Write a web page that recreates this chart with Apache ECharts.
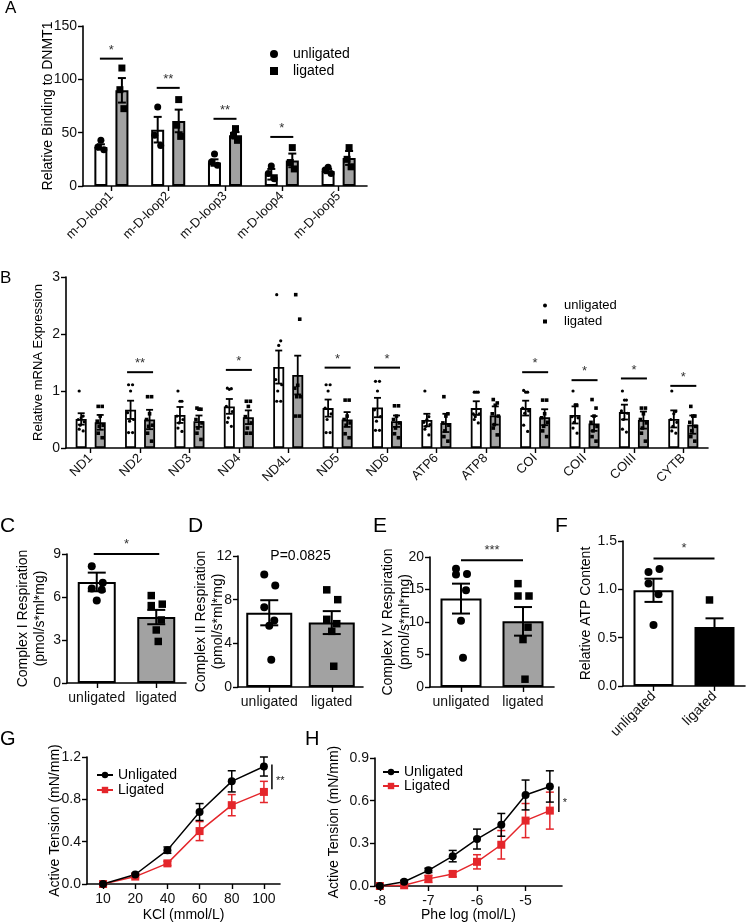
<!DOCTYPE html>
<html><head><meta charset="utf-8">
<script src="https://cdn.jsdelivr.net/npm/echarts@6/dist/echarts.min.js"></script>
<style>html,body{margin:0;padding:0;background:#fff}#c{width:750px;height:923px}</style>
</head><body><div id="c"></div>
<script>
// ---------- Panel A ----------
const A_CATS = ['m-D-loop1','m-D-loop2','m-D-loop3','m-D-loop4','m-D-loop5'];
const A_UNL_MEAN = [36.6, 52.8, 22, 11, 14];
const A_UNL_SE = [2.5, 12, 3, 5, 2];
const A_LIG_MEAN = [89.7, 61, 47.5, 24, 26.3];
const A_LIG_SE = [11.5, 10.6, 3, 6.4, 6.5];
const A_UNL_PTS = [[42.8, 36.6, 34], [74, 47.5, 38], [30, 22.5, 19.4], [18.8, 11.7, 6.9], [17.5, 15, 11.7]];
const A_LIG_PTS = [[110.6, 90.3, 72.5], [81, 57, 46.5], [53.8, 47.5, 42.8], [36, 22, 16], [36, 25, 18]];
const A_SIG_IDX = [0, 1, 2, 3];
const A_SIG_Y = [119.4, 92, 63, 46];
const A_SIG_TXT = ['*', '**', '**', '*'];

// ---------- Panel B ----------
const B_CATS = ['ND1','ND2','ND3','ND4','ND4L','ND5','ND6','ATP6','ATP8','COI','COII','COIII','CYTB'];
const B_UNL_MEAN = [0.51,0.67,0.58,0.73,1.42,0.70,0.71,0.49,0.70,0.70,0.58,0.63,0.51];
const B_UNL_SE   = [0.10,0.16,0.14,0.13,0.29,0.15,0.17,0.11,0.12,0.13,0.15,0.13,0.15];
const B_LIG_MEAN = [0.45,0.50,0.47,0.54,1.28,0.50,0.47,0.44,0.57,0.54,0.43,0.49,0.41];
const B_LIG_SE   = [0.13,0.17,0.10,0.12,0.34,0.13,0.10,0.16,0.16,0.14,0.13,0.15,0.16];
const B_UNL_PTS = [
 [1.0,0.56,0.53,0.5,0.46,0.4,0.33,0.3],
 [1.11,1.11,1.0,0.62,0.5,0.47,0.27,0.27],
 [1.0,0.82,0.82,0.56,0.5,0.44,0.35,0.29],
 [1.05,1.04,1.03,0.73,0.64,0.53,0.45,0.38],
 [2.69,1.88,1.8,1.2,1.11,1.0,0.82,0.82],
 [1.11,1.11,1.0,0.7,0.6,0.5,0.27,0.27],
 [1.17,1.17,1.0,0.67,0.55,0.47,0.31,0.31],
 [1.0,0.55,0.5,0.45,0.41,0.38,0.33,0.23],
 [0.98,0.98,0.98,0.6,0.6,0.55,0.5,0.44],
 [1.01,0.98,0.98,0.7,0.65,0.61,0.4,0.29],
 [1.0,0.76,0.76,0.55,0.53,0.45,0.35,0.26],
 [1.0,0.84,0.84,0.65,0.61,0.5,0.33,0.28],
 [1.0,0.64,0.6,0.5,0.45,0.38,0.3,0.26]];
const B_LIG_PTS = [
 [0.73,0.73,0.56,0.47,0.4,0.38,0.26,0.18],
 [0.9,0.9,0.6,0.5,0.4,0.38,0.26,0.12],
 [0.7,0.68,0.68,0.5,0.44,0.35,0.26,0.15],
 [0.82,0.82,0.73,0.55,0.44,0.35,0.26,0.26],
 [2.69,2.26,1.1,1.05,0.9,0.9,0.56,0.56],
 [0.84,0.84,0.56,0.5,0.44,0.4,0.25,0.18],
 [0.74,0.74,0.56,0.5,0.44,0.35,0.25,0.18],
 [0.9,0.6,0.56,0.44,0.4,0.3,0.2,0.12],
 [0.85,0.79,0.75,0.6,0.56,0.41,0.35,0.23],
 [0.84,0.84,0.6,0.53,0.45,0.38,0.3,0.2],
 [0.85,0.7,0.56,0.45,0.38,0.3,0.2,0.12],
 [0.7,0.7,0.6,0.5,0.44,0.35,0.26,0.12],
 [0.73,0.56,0.56,0.45,0.38,0.3,0.2,0.12]];
const B_SIG_IDX = [1, 3, 5, 6, 9, 10, 11, 12];
const B_SIG_Y = [1.33, 1.37, 1.41, 1.41, 1.33, 1.19, 1.22, 1.09];
const B_SIG_TXT = ['**', '*', '*', '*', '*', '*', '*', '*'];

// ---------- Panels C-F ----------
const GROUPS = ['unligated', 'ligated'];
const C_MEAN = [7.05, 4.6], C_SE = [0.65, 0.5];
const C_PTS = [[8.15, 7.0, 6.6, 6.5, 5.75], [6.1, 5.5, 5.4, 4.4, 3.7, 2.9]];
const D_MEAN = [6.8, 5.9], D_SE = [1.15, 1.05];
const D_PTS = [[10.3, 9.3, 7.3, 6.1, 5.6, 2.5], [8.9, 8.0, 6.2, 5.8, 5.1, 1.9]];
const E_MEAN = [13.6, 10.1], E_SE = [2.3, 2.2];
const E_PTS = [[18.2, 17.4, 17.3, 14.9, 10.2, 4.5], [15.9, 14.0, 14.0, 9.2, 7.3, 1.2]];
const F_MEAN = [0.99, 0.61], F_SE = [0.12, 0.09];
const F_PTS = [[1.18, 1.21, 1.06, 0.95, 0.63], [0.89, 0.55, 0.4]];
const C_SIG_Y = 9, D_TEXT_Y = 12, E_SIG_Y = 19.5, F_SIG_Y = 1.32;

// ---------- Panel G ----------
const G_X = ['10', '20', '40', '60', '80', '100'];
const G_UNL = [0, 0.09, 0.32, 0.68, 0.97, 1.11];
const G_UNL_SE = [0.01, 0.01, 0.03, 0.08, 0.1, 0.09];
const G_LIG = [0, 0.07, 0.195, 0.50, 0.745, 0.87];
const G_LIG_SE = [0.01, 0.01, 0.02, 0.09, 0.1, 0.1];
const G_SIG = [0.895, 1.128];

// ---------- Panel H ----------
const H_X = [-8, -7.5, -7, -6.5, -6, -5.5, -5, -4.5];
const H_UNL = [0, 0.03, 0.11, 0.21, 0.33, 0.43, 0.64, 0.70];
const H_UNL_SE = [0.005, 0.01, 0.015, 0.04, 0.07, 0.08, 0.105, 0.11];
const H_LIG = [0, 0.005, 0.05, 0.085, 0.17, 0.29, 0.46, 0.53];
const H_LIG_SE = [0.005, 0.005, 0.025, 0.02, 0.05, 0.1, 0.12, 0.13];
const H_TICKS = [-8, -7, -6, -5];
const H_SIG = [0.52, 0.70];

// ================= build =================
const FONT = '"Liberation Sans", Arial, sans-serif';
const BLACK = '#000';
const GRAY = '#a2a2a2';
const RED = '#e4262b';

const chart = echarts.init(document.getElementById('c'), null, {renderer: 'canvas'});

function ptsData(arr) { const d = []; arr.forEach((g, i) => g.forEach((v, k) => d.push([i, v, k]))); return d; }
function errData(m, s) { return m.map((v, i) => [i, v, s[i]]); }

function ptsRender(off, shapeFn, sizeFn, jit) {
  return function (params, api) {
    const i = api.value(0), k = api.value(2);
    const p = api.coord([i, api.value(1)]);
    const x = p[0] + off + jit[k % jit.length];
    const shape = shapeFn(i), sz = sizeFn(i);
    if (shape === 'circle') return {type: 'circle', shape: {cx: x, cy: p[1], r: sz / 2}, style: {fill: BLACK}};
    return {type: 'rect', shape: {x: x - sz / 2, y: p[1] - sz / 2, width: sz, height: sz}, style: {fill: BLACK}};
  };
}
function errRender(off, cap, color, lw) {
  return function (params, api) {
    const i = api.value(0), m = api.value(1), e = api.value(2);
    const t = api.coord([i, m + e]), b = api.coord([i, m - e]);
    const x = t[0] + off;
    const st = {stroke: color, lineWidth: lw};
    return {type: 'group', children: [
      {type: 'line', shape: {x1: x, y1: t[1], x2: x, y2: b[1]}, style: st},
      {type: 'line', shape: {x1: x - cap, y1: t[1], x2: x + cap, y2: t[1]}, style: st},
      {type: 'line', shape: {x1: x - cap, y1: b[1], x2: x + cap, y2: b[1]}, style: st}
    ]};
  };
}
function starText(x, y, t, fs) {
  return {type: 'text', style: {text: t, x: x, y: y, textAlign: 'center', textVerticalAlign: 'bottom', align: 'center', verticalAlign: 'bottom', fontSize: fs, fontFamily: FONT, fill: '#333'}};
}
function sigRender(half, texts, fs) {
  return function (params, api) {
    const p = api.coord([api.value(0), api.value(1)]);
    return {type: 'group', children: [
      {type: 'line', shape: {x1: p[0] - half, y1: p[1], x2: p[0] + half, y2: p[1]}, style: {stroke: BLACK, lineWidth: 2}},
      starText(p[0], p[1] - 2, texts[params.dataIndex], fs)
    ]};
  };
}
function pairSigRender(text, fs, ext) {
  return function (params, api) {
    const y = api.value(1);
    const p0 = api.coord([0, y]), p1 = api.coord([1, y]);
    return {type: 'group', children: [
      {type: 'line', shape: {x1: p0[0] - ext, y1: p0[1], x2: p1[0] + ext, y2: p1[1]}, style: {stroke: BLACK, lineWidth: 2}},
      starText((p0[0] + p1[0]) / 2, p0[1] - 3, text, fs)
    ]};
  };
}
function vSigRender(lastX, off, text) {
  return function (params, api) {
    const a = api.coord([lastX, api.value(0)]), b = api.coord([lastX, api.value(1)]);
    const x = a[0] + off;
    return {type: 'group', children: [
      {type: 'line', shape: {x1: x, y1: a[1], x2: x, y2: b[1]}, style: {stroke: BLACK, lineWidth: 1.5}},
      {type: 'text', style: {text: text, x: x + 4, y: (a[1] + b[1]) / 2 + 4, textAlign: 'left', align: 'left', textVerticalAlign: 'middle', verticalAlign: 'middle', fontSize: 11, fontFamily: FONT, fill: '#222'}}
    ]};
  };
}

const axLine = {show: true, lineStyle: {color: BLACK, width: 1.6}};
const axTick = {show: true, length: 5, lineStyle: {color: BLACK, width: 1.4}};
function yAx(g, min, max, interval, name, gap, fmt, fs) {
  return {
    gridIndex: g, type: 'value', min: min, max: max, interval: interval,
    name: name, nameLocation: 'middle', nameGap: gap, nameRotate: 90, nameMoveOverlap: false,
    nameTextStyle: {fontSize: fs || 14, fontFamily: FONT, color: BLACK, lineHeight: 17},
    axisLine: axLine, axisTick: axTick, splitLine: {show: false},
    axisLabel: {fontSize: 14, fontFamily: FONT, color: '#111', margin: 6, formatter: fmt}
  };
}
function xCat(g, data, rotate, fs, extra) {
  return Object.assign({
    gridIndex: g, type: 'category', data: data,
    axisLine: axLine, axisTick: Object.assign({alignWithLabel: true}, axTick),
    axisLabel: {fontSize: fs, fontFamily: FONT, color: '#111', rotate: rotate, margin: 8, interval: 0}
  }, extra || {});
}

const grids = [
  {left: 83, top: 26, width: 284, height: 160},
  {left: 66, top: 277, width: 642, height: 171},
  {left: 67, top: 554, width: 119, height: 129},
  {left: 238, top: 556, width: 125, height: 131},
  {left: 430, top: 557, width: 124, height: 130},
  {left: 623, top: 541, width: 122, height: 145},
  {left: 87, top: 757, width: 193, height: 129},
  {left: 375, top: 758, width: 187, height: 129}
];

const xAxes = [
  xCat(0, A_CATS, 45, 13),
  xCat(1, B_CATS, 45, 13),
  xCat(2, GROUPS, 0, 14),
  xCat(3, GROUPS, 0, 14),
  xCat(4, GROUPS, 0, 14),
  xCat(5, GROUPS, 45, 14),
  xCat(6, G_X, 0, 14, {name: 'KCl (mmol/L)', nameLocation: 'middle', nameGap: 24, nameMoveOverlap: false, nameTextStyle: {fontSize: 14, fontFamily: FONT, color: BLACK}}),
  {gridIndex: 7, type: 'value', min: -8.1, max: -4.25,
    name: 'Phe log (mol/L)', nameLocation: 'middle', nameGap: 22, nameMoveOverlap: false, nameTextStyle: {fontSize: 14, fontFamily: FONT, color: BLACK},
    axisLine: axLine, axisTick: Object.assign({customValues: H_TICKS}, axTick), splitLine: {show: false},
    axisLabel: {customValues: H_TICKS, fontSize: 14, fontFamily: FONT, color: '#111', margin: 8,
      formatter: v => (Number.isInteger(v) ? String(v) : '')}}
];
const f1 = v => v.toFixed(1);
const yAxes = [
  yAx(0, 0, 150, 50, 'Relative Binding to DNMT1', 26, null, 14),
  yAx(1, 0, 3, 1, 'Relative mRNA Expression', 19, null, 13),
  yAx(2, 0, 9, 3, 'Complex I Respiration\n(pmol/s*ml*mg)', 18, null),
  yAx(3, 0, 12, 4, 'Complex II Respiration\n(pmol/s*ml*mg)', 11, null),
  yAx(4, 0, 20, 5, 'Complex IV Respiration\n(pmol/s*ml*mg)', 16, null),
  yAx(5, 0, 1.5, 0.5, 'Relative ATP Content', 28, f1),
  yAx(6, 0, 1.2, 0.4, 'Active Tension (mN/mm)', 23, f1),
  yAx(7, 0, 0.9, 0.3, 'Active Tension (mN/mm)', 32, f1)
];

const series = [];
// ---- A ----
const barStyleW = {color: '#fff', borderColor: BLACK, borderWidth: 2};
const barStyleG = {color: GRAY, borderColor: BLACK, borderWidth: 2};
series.push({type: 'bar', name: 'A-unl', xAxisIndex: 0, yAxisIndex: 0, data: A_UNL_MEAN, barWidth: 13, barGap: '62%', itemStyle: barStyleW, z: 2});
series.push({type: 'bar', name: 'A-lig', xAxisIndex: 0, yAxisIndex: 0, data: A_LIG_MEAN, barWidth: 13, barGap: '62%', itemStyle: barStyleG, z: 2});
series.push({type: 'custom', name: 'A-err-u', xAxisIndex: 0, yAxisIndex: 0, data: errData(A_UNL_MEAN, A_UNL_SE), renderItem: errRender(-10.5, 4, BLACK, 2), z: 3});
series.push({type: 'custom', name: 'A-err-l', xAxisIndex: 0, yAxisIndex: 0, data: errData(A_LIG_MEAN, A_LIG_SE), renderItem: errRender(10.5, 4, BLACK, 2), z: 3});
series.push({type: 'custom', name: 'unligated', xAxisIndex: 0, yAxisIndex: 0, data: ptsData(A_UNL_PTS), itemStyle: {color: BLACK}, renderItem: ptsRender(-10.5, () => 'circle', () => 7, [0, -3, 3]), z: 4});
series.push({type: 'custom', name: 'ligated', xAxisIndex: 0, yAxisIndex: 0, data: ptsData(A_LIG_PTS), itemStyle: {color: BLACK}, renderItem: ptsRender(10.5, () => 'rect', () => 7, [0, -2, 2]), z: 4});
series.push({type: 'custom', name: 'A-sig', xAxisIndex: 0, yAxisIndex: 0, data: A_SIG_IDX.map((c, j) => [c, A_SIG_Y[j]]), renderItem: sigRender(11.5, A_SIG_TXT, 13), z: 4});
// ---- B ----
const barStyleW2 = {color: '#fff', borderColor: BLACK, borderWidth: 1.8};
const barStyleG2 = {color: GRAY, borderColor: BLACK, borderWidth: 1.8};
series.push({type: 'bar', name: 'B-unl', xAxisIndex: 1, yAxisIndex: 1, data: B_UNL_MEAN, barWidth: 11, barGap: '73%', itemStyle: barStyleW2, z: 2});
series.push({type: 'bar', name: 'B-lig', xAxisIndex: 1, yAxisIndex: 1, data: B_LIG_MEAN, barWidth: 11, barGap: '73%', itemStyle: barStyleG2, z: 2});
series.push({type: 'custom', name: 'B-err-u', xAxisIndex: 1, yAxisIndex: 1, data: errData(B_UNL_MEAN, B_UNL_SE), renderItem: errRender(-9.5, 3.5, BLACK, 1.8), z: 3});
series.push({type: 'custom', name: 'B-err-l', xAxisIndex: 1, yAxisIndex: 1, data: errData(B_LIG_MEAN, B_LIG_SE), renderItem: errRender(9.5, 3.5, BLACK, 1.8), z: 3});
const BJ = [-2, 2, 0, -3, 3, -1, -2, 2];
series.push({type: 'custom', name: 'unligated', xAxisIndex: 1, yAxisIndex: 1, data: ptsData(B_UNL_PTS), itemStyle: {color: BLACK}, renderItem: ptsRender(-9.5, () => 'circle', () => 3.2, BJ), z: 4});
series.push({type: 'custom', name: 'ligated', xAxisIndex: 1, yAxisIndex: 1, data: ptsData(B_LIG_PTS), itemStyle: {color: BLACK}, renderItem: ptsRender(9.5, () => 'rect', () => 3.6, BJ), z: 4});
series.push({type: 'custom', name: 'B-sig', xAxisIndex: 1, yAxisIndex: 1, data: B_SIG_IDX.map((c, j) => [c, B_SIG_Y[j]]), renderItem: sigRender(13, B_SIG_TXT, 13), z: 4});

// ---- C-F ----
const PJ = [-5, 6, -5, 5, 0, 2];
function pairPanel(g, mean, se, pts, ligColor, barW) {
  series.push({type: 'bar', xAxisIndex: g, yAxisIndex: g, barWidth: barW,
    data: [{value: mean[0], itemStyle: {color: '#fff'}}, {value: mean[1], itemStyle: {color: ligColor}}],
    itemStyle: {borderColor: BLACK, borderWidth: 2}, z: 2});
  series.push({type: 'custom', xAxisIndex: g, yAxisIndex: g, data: errData(mean, se), renderItem: errRender(0, 9, BLACK, 2), z: 3});
  series.push({type: 'custom', xAxisIndex: g, yAxisIndex: g, data: ptsData(pts),
    renderItem: ptsRender(0, i => (i === 0 ? 'circle' : 'rect'), i => (i === 0 ? 8 : 7.5), PJ), z: 4});
}
pairPanel(2, C_MEAN, C_SE, C_PTS, GRAY, 38);
pairPanel(3, D_MEAN, D_SE, D_PTS, GRAY, 46);
pairPanel(4, E_MEAN, E_SE, E_PTS, GRAY, 41);
pairPanel(5, F_MEAN, F_SE, F_PTS, BLACK, 40);
series.push({type: 'custom', xAxisIndex: 2, yAxisIndex: 2, data: [[0, C_SIG_Y]], renderItem: pairSigRender('*', 13, 3), z: 5});
series.push({type: 'custom', xAxisIndex: 4, yAxisIndex: 4, data: [[0, E_SIG_Y]], renderItem: pairSigRender('***', 13, 0), z: 5});
series.push({type: 'custom', xAxisIndex: 5, yAxisIndex: 5, data: [[0, F_SIG_Y]], renderItem: pairSigRender('*', 13, 0), z: 5});
series.push({type: 'custom', xAxisIndex: 3, yAxisIndex: 3, data: [[0, D_TEXT_Y]], z: 5,
  renderItem: function (params, api) {
    const p0 = api.coord([0, api.value(1)]), p1 = api.coord([1, api.value(1)]);
    return {type: 'text', style: {text: 'P=0.0825', x: (p0[0] + p1[0]) / 2, y: p0[1], textAlign: 'center', align: 'center', textVerticalAlign: 'middle', verticalAlign: 'middle', fontSize: 14, fontFamily: FONT, fill: BLACK}};
  }});

// ---- G ----
series.push({type: 'custom', xAxisIndex: 6, yAxisIndex: 6, data: errData(G_LIG, G_LIG_SE), renderItem: errRender(0, 4, RED, 1.5), z: 2});
series.push({type: 'custom', xAxisIndex: 6, yAxisIndex: 6, data: errData(G_UNL, G_UNL_SE), renderItem: errRender(0, 4, BLACK, 1.5), z: 3});
series.push({type: 'line', name: 'Ligated', xAxisIndex: 6, yAxisIndex: 6, data: G_LIG, symbol: 'rect', symbolSize: 8,
  lineStyle: {color: RED, width: 1.5}, itemStyle: {color: RED}, z: 4});
series.push({type: 'line', name: 'Unligated', xAxisIndex: 6, yAxisIndex: 6, data: G_UNL, symbol: 'circle', symbolSize: 8,
  lineStyle: {color: BLACK, width: 1.5}, itemStyle: {color: BLACK}, z: 4});
series.push({type: 'custom', xAxisIndex: 6, yAxisIndex: 6, data: [G_SIG], renderItem: vSigRender(5, 8, '**'), z: 5});
// ---- H ----
const hData = (ys) => H_X.map((x, i) => [x, ys[i]]);
const hErr = (ys, se) => H_X.map((x, i) => [x, ys[i], se[i]]);
series.push({type: 'custom', xAxisIndex: 7, yAxisIndex: 7, data: hErr(H_LIG, H_LIG_SE), renderItem: errRender(0, 4, RED, 1.5), z: 2});
series.push({type: 'custom', xAxisIndex: 7, yAxisIndex: 7, data: hErr(H_UNL, H_UNL_SE), renderItem: errRender(0, 4, BLACK, 1.5), z: 3});
series.push({type: 'line', name: 'Ligated', xAxisIndex: 7, yAxisIndex: 7, data: hData(H_LIG), symbol: 'rect', symbolSize: 8,
  lineStyle: {color: RED, width: 1.5}, itemStyle: {color: RED}, z: 4});
series.push({type: 'line', name: 'Unligated', xAxisIndex: 7, yAxisIndex: 7, data: hData(H_UNL), symbol: 'circle', symbolSize: 8,
  lineStyle: {color: BLACK, width: 1.5}, itemStyle: {color: BLACK}, z: 4});
series.push({type: 'custom', xAxisIndex: 7, yAxisIndex: 7, data: [H_SIG], renderItem: vSigRender(-4.5, 9, '*'), z: 5});

const legTxt = (fs, pad) => ({fontSize: fs, fontFamily: FONT, color: BLACK, padding: [0, 0, 0, pad]});
const legends = [
  {data: [{name: 'unligated', icon: 'circle'}, {name: 'ligated', icon: 'rect'}], orient: 'vertical', left: 265, top: 42,
    itemWidth: 8, itemHeight: 8, itemGap: 3, textStyle: legTxt(14, 10), selectedMode: false},
  {data: [{name: 'unligated', icon: 'circle'}, {name: 'ligated', icon: 'rect'}], orient: 'vertical', left: 538, top: 294,
    itemWidth: 4, itemHeight: 4, itemGap: 3, textStyle: legTxt(13, 12), selectedMode: false},
  {data: ['Unligated', 'Ligated'], orient: 'vertical', left: 91, top: 763, itemWidth: 16, itemHeight: 8, itemGap: 1,
    textStyle: legTxt(14, 0), selectedMode: false},
  {data: ['Unligated', 'Ligated'], orient: 'vertical', left: 377, top: 760, itemWidth: 16, itemHeight: 8, itemGap: 0,
    textStyle: legTxt(14, 0), selectedMode: false}
];

const LETTERS = [['A', 5, 0, 17], ['B', 0, 270, 17], ['C', 0, 516, 21], ['D', 188, 516, 21], ['E', 373, 516, 21], ['F', 555, 516, 21], ['G', 0, 729, 20], ['H', 305, 729, 20]];
const graphic = LETTERS.map(l => ({type: 'text', x: l[1], y: l[2], style: {text: l[0], fontSize: l[3], fontFamily: FONT, fill: BLACK}}));

chart.setOption({
  animation: false,
  backgroundColor: '#fff',
  textStyle: {fontFamily: FONT},
  grid: grids,
  xAxis: xAxes,
  yAxis: yAxes,
  legend: legends,
  graphic: graphic,
  series: series
});
</script></body></html>
